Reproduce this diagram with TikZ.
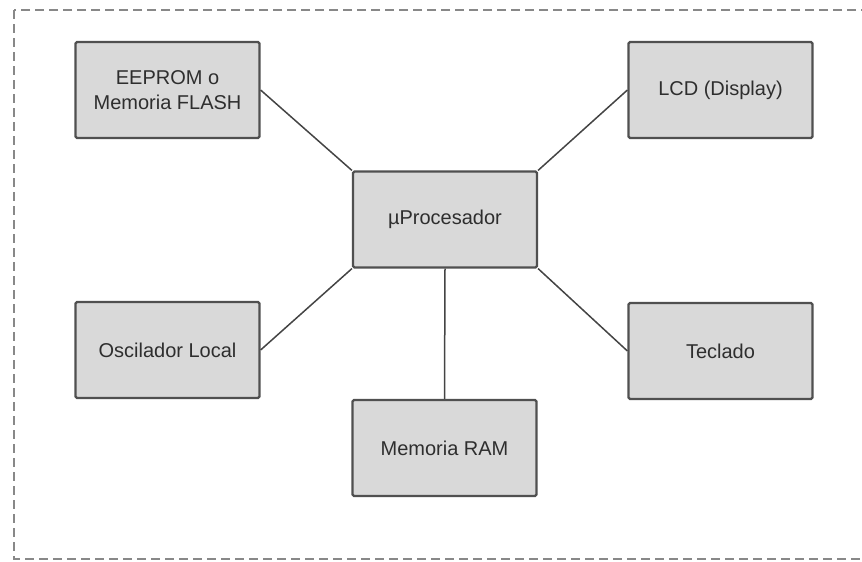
\documentclass[tikz,border=0pt]{standalone}
\usepackage{fontspec}
\setmainfont{Liberation Sans}
\definecolor{boxfill}{HTML}{D9D9D9}
\definecolor{boxline}{HTML}{505050}
\definecolor{linkline}{HTML}{444444}
\definecolor{frameline}{HTML}{888888}
\definecolor{labeltext}{HTML}{2E2E2E}
\tikzset{
  block/.style={draw=boxline, line width=2.2pt, fill=boxfill, rounded corners=1.5pt,
    minimum width=184pt, minimum height=96pt, inner sep=2pt, align=center,
    text=labeltext, font=\fontsize{20}{25}\selectfont},
  link/.style={draw=linkline, line width=1.5pt},
  frame/.style={draw=frameline, line width=2.4pt, dash pattern=on 9pt off 5pt}
}
\begin{document}
\begin{tikzpicture}[x=1pt, y=-1pt]
  \useasboundingbox (0,0) rectangle (862,562);
  \clip (0,0) rectangle (862,562);
  % system boundary
  \draw[frame] (14,10) rectangle (880,559);
  % blocks
  \node[block] (eeprom) at (167.5,90) {EEPROM o\\Memoria FLASH};
  \node[block] (lcd)    at (720.5,90) {LCD (Display)};
  \node[block] (cpu)    at (445,219.5) {µProcesador};
  \node[block] (osc)    at (167.5,350) {Oscilador Local};
  \node[block] (kbd)    at (720.5,351) {Teclado};
  \node[block] (ram)    at (444.5,448) {Memoria RAM};
  % connections to the processor
  \draw[link] (eeprom.east) -- (cpu.north west);
  \draw[link] (lcd.west)    -- (cpu.north east);
  \draw[link] (osc.east)    -- (cpu.south west);
  \draw[link] (kbd.west)    -- (cpu.south east);
  \draw[link] (ram.north)   -- (cpu.south);
\end{tikzpicture}
\end{document}
